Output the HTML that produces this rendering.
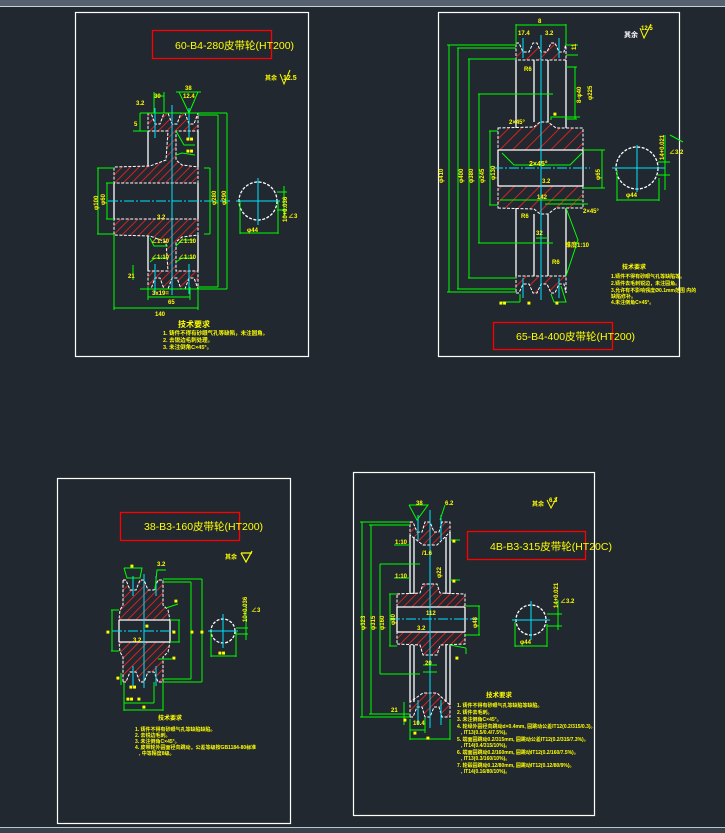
<!DOCTYPE html>
<html><head><meta charset="utf-8"><style>
html,body{margin:0;padding:0;background:#212830;}
svg{display:block}
text{font-family:"Liberation Sans","Noto Sans CJK SC",sans-serif;fill:#ffff00;font-weight:bold}
.t{font-weight:normal;font-family:"Liberation Sans","Noto Sans CJK SC",sans-serif;fill:#ffff00}
</style></head><body>
<svg width="725" height="833" viewBox="0 0 725 833" xmlns="http://www.w3.org/2000/svg">
<defs>
<pattern id="h" patternUnits="userSpaceOnUse" width="6" height="6" patternTransform="rotate(45)">
<rect width="6" height="6" fill="#212830"/>
<line x1="0" y1="0" x2="0" y2="6" stroke="#ff2020" stroke-width="1.6"/>
</pattern>
<pattern id="h2" patternUnits="userSpaceOnUse" width="9" height="9" patternTransform="rotate(45)">
<rect width="9" height="9" fill="#212830"/>
<line x1="0" y1="0" x2="0" y2="9" stroke="#ff2020" stroke-width="1.6"/>
</pattern>
</defs>
<rect x="0" y="0" width="725" height="6" fill="#566170"/>
<line x1="0" y1="6.5" x2="725" y2="6.5" stroke="#c8d0d8" stroke-width="1"/>
<rect x="0" y="828" width="725" height="5" fill="#39414b"/>
<line x1="0" y1="827.5" x2="725" y2="827.5" stroke="#b8c4cc" stroke-width="1"/>

<g fill="none" stroke="#fff" stroke-width="1.2">
<rect x="75.5" y="12.5" width="233" height="344"/>
<rect x="438.5" y="12.5" width="241" height="344"/>
<rect x="57.5" y="478.5" width="233" height="345"/>
<rect x="353.5" y="472.5" width="241" height="343"/>
</g>

<!-- ============ PANEL 1 ============ -->
<rect x="152.5" y="30.5" width="119" height="28" fill="none" stroke="#ff0000" stroke-width="1.3"/>
<text x="175" y="49" font-size="10.5" class="t" style="fill:#ffff00">60-B4-280皮带轮(HT200)</text>
<text x="265" y="80" font-size="6">其余</text><text x="283" y="80" font-size="7">12.5</text>
<path d="M280,74 L284,84 L290,70" fill="none" stroke="#ff0" stroke-width="1"/>
<g fill="url(#h)" stroke="#fff" stroke-width="1" stroke-dasharray="3,1.5">
<polygon points="148,113 151,113 155,124 160,124 164,113 168,113 172,124 177,124 181,113 185,113 189,124 194,124 198,113 198,131 176,131 176,160 182,165 198,167 198,183 114,183 114,167 150,166 166,160 168,131 148,131"/>
<polygon points="148,289 151,289 155,278 160,278 164,289 168,289 172,278 177,278 181,289 185,289 189,278 194,278 198,289 198,271 176,271 176,242 182,237 198,235 198,219 114,219 114,235 150,236 166,242 168,271 148,271"/>
</g>
<g stroke="#fff" stroke-width="1.3" fill="none">
<line x1="148" y1="131" x2="148" y2="166"/><line x1="198" y1="131" x2="198" y2="167"/>
<line x1="148" y1="236" x2="148" y2="271"/><line x1="198" y1="235" x2="198" y2="271"/>
<line x1="114" y1="183" x2="114" y2="219"/><line x1="198" y1="183" x2="198" y2="219"/>
<circle cx="258" cy="201" r="19" stroke-dasharray="3,1.5"/>
</g>
<g stroke="#00e5ff" stroke-width="1">
<line x1="108" y1="201" x2="232" y2="201" stroke-dasharray="10,2,2,2"/>
<line x1="172" y1="105" x2="172" y2="295"/>
<line x1="155" y1="108" x2="155" y2="138"/><line x1="189" y1="108" x2="189" y2="138"/>
<line x1="155" y1="264" x2="155" y2="294"/><line x1="189" y1="264" x2="189" y2="294"/>
<line x1="236" y1="201" x2="280" y2="201"/><line x1="258" y1="178" x2="258" y2="225"/>
</g>
<g stroke="#00ff00" stroke-width="1" fill="none">
<line x1="140" y1="113" x2="227" y2="113"/><line x1="198" y1="115" x2="218" y2="115"/>
<line x1="198" y1="287" x2="218" y2="287"/><line x1="140" y1="289" x2="227" y2="289"/>
<line x1="218" y1="115" x2="218" y2="287"/><line x1="227" y1="113" x2="227" y2="289"/>
<line x1="98" y1="168" x2="98" y2="234"/><line x1="107" y1="183" x2="107" y2="219"/>
<line x1="97" y1="168" x2="114" y2="168"/><line x1="97" y1="234" x2="114" y2="234"/>
<line x1="106" y1="183" x2="114" y2="183"/><line x1="106" y1="219" x2="114" y2="219"/>
<line x1="204" y1="168" x2="210" y2="168"/><line x1="210" y1="168" x2="210" y2="234"/><line x1="204" y1="234" x2="210" y2="234"/>
<line x1="148" y1="287" x2="148" y2="300"/><line x1="190" y1="287" x2="190" y2="300"/>
<line x1="148" y1="297" x2="190" y2="297"/><line x1="114" y1="234" x2="114" y2="310"/><line x1="198" y1="289" x2="198" y2="310"/>
<line x1="114" y1="308" x2="198" y2="308"/>
<line x1="140" y1="113" x2="140" y2="131"/><line x1="133" y1="131" x2="148" y2="131"/>
<line x1="133" y1="265" x2="133" y2="280"/>
<line x1="154" y1="92" x2="154" y2="113"/><line x1="164" y1="92" x2="164" y2="113"/><line x1="154" y1="96" x2="164" y2="96"/>
<polyline points="179,92 189,113 198,92"/><line x1="176" y1="92" x2="201" y2="92"/>
<line x1="240" y1="201" x2="240" y2="234"/><line x1="278" y1="201" x2="278" y2="234"/><line x1="240" y1="233" x2="278" y2="233"/>
<line x1="277" y1="192" x2="287" y2="192"/><line x1="277" y1="210" x2="287" y2="210"/><line x1="284" y1="186" x2="284" y2="218"/>
<polyline points="176,131 184,145 195,145"/><polyline points="176,155 182,153 195,155"/>
<polyline points="150,238 154,246 168,246"/><polyline points="176,246 182,240 194,240"/>
<polyline points="150,262 155,258 168,258"/><polyline points="176,262 182,258 194,258"/>
</g>
<g font-size="6">
<text x="154" y="98">30</text><text x="183" y="98">12.4</text><text x="185" y="90">38</text>
<text x="136" y="105">3.2</text><text x="134" y="126">5</text>
<text x="186" y="141">■■</text><text x="186" y="153">■■</text>
<text x="157" y="219">3.2</text>
<text x="151" y="259">∠1:10</text><text x="178" y="259">∠1:10</text>
<text x="151" y="243">∠1:10</text><text x="178" y="243">∠1:10</text>
<text x="152" y="295">3x19=</text><text x="168" y="304">65</text><text x="155" y="316">140</text>
<text x="247" y="232">φ44</text><text x="128" y="278">21</text>
<text x="216" y="205" transform="rotate(-90 216 205)">φ280</text>
<text x="226" y="205" transform="rotate(-90 226 205)">φ290</text>
<text x="98" y="210" transform="rotate(-90 98 210)">φ100</text>
<text x="105" y="205" transform="rotate(-90 105 205)">φ60</text>
<text x="287" y="222" transform="rotate(-90 287 222)">10+0.036</text>
<text x="288" y="218">∠3</text>
</g>
<text x="178" y="327" font-size="8">技术要求</text>
<g font-size="5.5"><text x="163" y="335">1. 铸件不得有砂眼气孔等缺陷，未注圆角。</text><text x="163" y="342">2. 去锐边毛刺处理。</text><text x="163" y="349">3. 未注倒角C×45°。</text></g>

<!-- ============ PANEL 2 ============ -->
<rect x="493.5" y="322.5" width="119" height="27" fill="none" stroke="#ff0000" stroke-width="1.3"/>
<text x="516" y="340" font-size="10.5" class="t" style="fill:#ffff00">65-B4-400皮带轮(HT200)</text>
<text x="624" y="37" font-size="7" style="fill:#fff">其余</text><text x="641" y="30" font-size="6">12.5</text>
<path d="M640,28 L644,38 L651,24" fill="none" stroke="#ff0" stroke-width="1"/>
<g fill="url(#h2)" stroke="#fff" stroke-width="1" stroke-dasharray="3,1.5">
<polygon points="516,43 519,43 523,52 529,52 533,43 537,43 541,52 547,52 551,43 555,43 559,52 564,52 566,43 566,60 516,60"/>
<polygon points="516,293 519,293 523,284 529,284 533,293 537,293 541,284 547,284 551,293 555,293 559,284 564,284 566,293 566,276 516,276"/>
<polygon points="498,128 534,127 540,122 548,122 556,128 583,128 583,150 498,150"/>
<polygon points="498,208 534,209 540,214 548,214 556,208 583,208 583,186 498,186"/>
</g>
<g stroke="#fff" stroke-width="1.3" fill="none">
<line x1="516" y1="60" x2="516" y2="128"/><line x1="566" y1="60" x2="566" y2="128"/>
<line x1="516" y1="208" x2="516" y2="276"/><line x1="566" y1="208" x2="566" y2="276"/>
<line x1="534" y1="60" x2="534" y2="122"/><line x1="548" y1="60" x2="548" y2="122"/>
<line x1="534" y1="214" x2="534" y2="276"/><line x1="548" y1="214" x2="548" y2="276"/>
<line x1="498" y1="150" x2="498" y2="186"/><line x1="583" y1="150" x2="583" y2="186"/>
<line x1="498" y1="150" x2="583" y2="150"/><line x1="498" y1="186" x2="583" y2="186"/>
<circle cx="637" cy="168" r="21" stroke-dasharray="3,1.5"/>
</g>
<g stroke="#00e5ff" stroke-width="1">
<line x1="493" y1="168" x2="590" y2="168" stroke-dasharray="10,2,2,2"/>
<line x1="541" y1="35" x2="541" y2="300"/>
<line x1="523" y1="38" x2="523" y2="58"/><line x1="559" y1="38" x2="559" y2="58"/>
<line x1="523" y1="278" x2="523" y2="298"/><line x1="559" y1="278" x2="559" y2="298"/>
<line x1="612" y1="168" x2="665" y2="168"/><line x1="637" y1="145" x2="637" y2="192"/>
</g>
<g stroke="#00ff00" stroke-width="1" fill="none">
<line x1="516" y1="25" x2="566" y2="25"/><line x1="516" y1="24" x2="516" y2="45"/><line x1="566" y1="24" x2="566" y2="45"/>
<line x1="447" y1="45" x2="516" y2="45"/><line x1="447" y1="292" x2="516" y2="292"/>
<line x1="449" y1="45" x2="449" y2="292"/>
<line x1="457" y1="48" x2="516" y2="48"/><line x1="457" y1="289" x2="516" y2="289"/><line x1="458" y1="48" x2="458" y2="289"/>
<line x1="468" y1="59" x2="516" y2="59"/><line x1="468" y1="278" x2="516" y2="278"/><line x1="469" y1="59" x2="469" y2="278"/>
<line x1="478" y1="94" x2="553" y2="94"/><line x1="478" y1="243" x2="553" y2="243"/><line x1="479" y1="94" x2="479" y2="243"/>
<line x1="489" y1="131" x2="498" y2="131"/><line x1="489" y1="205" x2="498" y2="205"/><line x1="490" y1="131" x2="490" y2="205"/>
<line x1="583" y1="150" x2="605" y2="150"/><line x1="583" y1="188" x2="605" y2="188"/><line x1="602" y1="150" x2="602" y2="188"/>
<line x1="566" y1="67" x2="577" y2="67"/><line x1="566" y1="119" x2="577" y2="119"/><line x1="575" y1="67" x2="575" y2="119"/>
<line x1="566" y1="45" x2="578" y2="45"/><line x1="566" y1="55" x2="578" y2="55"/>
<polyline points="502,153 514,165 570,165 582,153"/>
<line x1="500" y1="200" x2="582" y2="200"/>
<polyline points="566,208 578,240 570,264 566,276"/>
<line x1="545" y1="204" x2="588" y2="204"/>
<polyline points="551,120 551,117 580,117"/>
<line x1="536" y1="238" x2="548" y2="238"/>
<polyline points="551,294 554,302 566,302 561,286"/>
<line x1="520" y1="302" x2="520" y2="294"/><line x1="501" y1="302" x2="520" y2="302"/>
<line x1="617" y1="170" x2="617" y2="201"/><line x1="659" y1="178" x2="659" y2="201"/><line x1="617" y1="200" x2="659" y2="200"/>
<line x1="665" y1="135" x2="665" y2="190"/><line x1="658" y1="162" x2="670" y2="162"/><line x1="658" y1="175" x2="670" y2="175"/>
<line x1="670" y1="135" x2="683" y2="142"/>
</g>
<g font-size="6">
<text x="538" y="23">8</text><text x="518" y="35">17.4</text><text x="545" y="35">3.2</text>
<text x="524" y="71">R6</text><text x="509" y="124">2×45°</text><text x="553" y="116">■</text>
<text x="529" y="166" font-size="7">2×45°</text><text x="542" y="183">3.2</text><text x="537" y="199">142</text>
<text x="521" y="218">R6</text><text x="583" y="213">2×45°</text><text x="536" y="235">32</text>
<text x="565" y="247">锥度1:10</text><text x="552" y="264">R6</text><text x="555" y="305">■</text>
<text x="499" y="305">■■</text><text x="527" y="305">■</text>
<text x="626" y="197">φ44</text>
<text x="443" y="183" transform="rotate(-90 443 183)">φ410</text>
<text x="463" y="183" transform="rotate(-90 463 183)">φ400</text>
<text x="473" y="183" transform="rotate(-90 473 183)">φ380</text>
<text x="484" y="183" transform="rotate(-90 484 183)">φ245</text>
<text x="495" y="180" transform="rotate(-90 495 180)">φ130</text>
<text x="600" y="180" transform="rotate(-90 600 180)">φ65</text>
<text x="581" y="103" transform="rotate(-90 581 103)">8-φ40</text>
<text x="592" y="100" transform="rotate(-90 592 100)">φ225</text>
<text x="576" y="50" transform="rotate(-90 576 50)">11</text>
<text x="664" y="160" transform="rotate(-90 664 160)">14+0.021</text>
<text x="669" y="154">∠3.2</text>
</g>
<text x="622" y="269" font-size="6">技术要求</text>
<g font-size="5"><text x="611" y="278">1.铸件不得有砂眼气孔等缺陷等。</text><text x="611" y="285">2.铸件去毛刺锐边，未注圆角。</text><text x="611" y="292">3.允许有不影响强度Ø0.1mm范围 内的</text><text x="611" y="298">缺陷修补。</text><text x="611" y="304">4.未注倒角C×45°。</text></g>

<!-- ============ PANEL 3 ============ -->
<rect x="120.5" y="512.5" width="119" height="28" fill="none" stroke="#ff0000" stroke-width="1.3"/>
<text x="144" y="530" font-size="10.5" class="t" style="fill:#ffff00">38-B3-160皮带轮(HT200)</text>
<text x="225" y="559" font-size="6">其余</text>
<path d="M241,553 L246,562 L252,551 M241,553 L252,553" fill="none" stroke="#ff0" stroke-width="1.2"/>
<g fill="url(#h)" stroke="#fff" stroke-width="1" stroke-dasharray="3,1.5">
<polygon points="123,580 126,580 130,590 136,590 140,580 144,580 148,590 154,590 158,580 163,580 163,605 168,610 170,620 119,620 120,610 123,605"/>
<polygon points="123,682 126,682 130,672 136,672 140,682 144,682 148,672 154,672 158,682 163,682 163,657 168,652 170,642 119,642 120,652 123,657"/>
</g>
<g stroke="#fff" stroke-width="1.3" fill="none">
<line x1="119" y1="620" x2="119" y2="642"/><line x1="170" y1="620" x2="170" y2="642"/>
<line x1="119" y1="620" x2="170" y2="620"/><line x1="119" y1="642" x2="170" y2="642"/>
<circle cx="223" cy="631" r="12" stroke-dasharray="3,1.5"/>
</g>
<g stroke="#00e5ff" stroke-width="1">
<line x1="112" y1="631" x2="175" y2="631" stroke-dasharray="10,2,2,2"/>
<line x1="144" y1="574" x2="144" y2="688"/>
<line x1="133" y1="576" x2="133" y2="596"/><line x1="156" y1="576" x2="156" y2="596"/>
<line x1="133" y1="666" x2="133" y2="686"/><line x1="156" y1="666" x2="156" y2="686"/>
<line x1="208" y1="631" x2="238" y2="631"/><line x1="223" y1="614" x2="223" y2="648"/>
</g>
<g stroke="#00ff00" stroke-width="1" fill="none">
<line x1="163" y1="579" x2="202" y2="579"/><line x1="163" y1="682" x2="202" y2="682"/><line x1="202" y1="579" x2="202" y2="682"/>
<line x1="163" y1="582" x2="191" y2="582"/><line x1="163" y1="679" x2="191" y2="679"/><line x1="191" y1="582" x2="191" y2="679"/>
<line x1="111" y1="610" x2="119" y2="610"/><line x1="111" y1="651" x2="119" y2="651"/><line x1="112" y1="610" x2="112" y2="651"/>
<line x1="170" y1="620" x2="180" y2="620"/><line x1="170" y1="642" x2="180" y2="642"/><line x1="179" y1="620" x2="179" y2="642"/>
<line x1="124" y1="682" x2="124" y2="711"/><line x1="163" y1="682" x2="163" y2="711"/><line x1="124" y1="710" x2="163" y2="710"/>
<line x1="124" y1="703" x2="154" y2="703"/><line x1="154" y1="682" x2="154" y2="703"/>
<polyline points="124,568 127,578 140,578 142,568 124,568"/>
<polyline points="155,590 157,570 166,570"/>
<line x1="166" y1="608" x2="178" y2="604"/><line x1="158" y1="659" x2="172" y2="659"/>
<line x1="121" y1="673" x2="121" y2="685"/>
<line x1="211" y1="632" x2="211" y2="657"/><line x1="236" y1="632" x2="236" y2="657"/><line x1="211" y1="656" x2="236" y2="656"/>
<line x1="246" y1="605" x2="246" y2="640"/><line x1="236" y1="628" x2="248" y2="628"/><line x1="236" y1="634" x2="248" y2="634"/>
</g>
<g font-size="6">
<text x="130" y="568">■</text><text x="157" y="566">3.2</text><text x="174" y="603">■</text>
<text x="145" y="628">■</text><text x="133" y="642">3.2</text><text x="172" y="660">■</text>
<text x="116" y="680">■</text><text x="129" y="689">■■</text><text x="126" y="701">■■</text><text x="137" y="701">■</text><text x="142" y="709">■</text>
<text x="106" y="634">■</text><text x="172" y="634">■</text>
<text x="190" y="634">■</text><text x="200" y="634">■</text><text x="218" y="655">■■</text>
<text x="247" y="622" transform="rotate(-90 247 622)">10+0.036</text><text x="251" y="612">∠3</text>
</g>
<text x="158" y="720" font-size="6">技术要求</text>
<g font-size="5"><text x="135" y="731">1. 铸件不得有砂眼气孔等缺陷缺陷。</text><text x="135" y="737">2. 去锐边毛刺。</text><text x="135" y="743">3. 未注倒角C×45°。</text><text x="135" y="749">4. 皮带轮外圆面径向跳动，公差等级按GB1184-80标准</text><text x="139" y="755">, 中等精度8级。</text></g>

<!-- ============ PANEL 4 ============ -->
<rect x="467.5" y="531.5" width="118" height="28" fill="none" stroke="#ff0000" stroke-width="1.3"/>
<text x="490" y="550" font-size="10.5" class="t" style="fill:#ffff00">4B-B3-315皮带轮(HT20C)</text>
<text x="532" y="506" font-size="6">其余</text><text x="549" y="502" font-size="6">6.3</text>
<path d="M547,500 L551,508 L557,497" fill="none" stroke="#ff0" stroke-width="1"/>
<g fill="url(#h)" stroke="#fff" stroke-width="1" stroke-dasharray="3,1.5">
<polygon points="410,522 413,522 417,532 422,532 425,522 430,522 434,532 439,532 442,522 450,522 450,532 437,545 423,545 410,535"/>
<polygon points="397,594 420,593 423,584 437,584 440,593 465,594 465,607 397,607"/>
<polygon points="397,644 420,645 423,655 437,655 440,645 465,644 465,632 397,632"/>
<polygon points="410,717 413,717 417,707 422,707 425,717 430,717 434,707 439,707 442,717 450,717 450,705 437,693 423,693 410,702"/>
</g>
<g stroke="#fff" stroke-width="1.3" fill="none">
<line x1="410" y1="535" x2="410" y2="594"/><line x1="450" y1="532" x2="450" y2="594"/>
<line x1="410" y1="645" x2="410" y2="702"/><line x1="450" y1="645" x2="450" y2="705"/>
<line x1="414" y1="537" x2="414" y2="594"/><line x1="446" y1="537" x2="446" y2="594"/>
<line x1="414" y1="645" x2="414" y2="702"/><line x1="446" y1="645" x2="446" y2="702"/>
<line x1="397" y1="607" x2="397" y2="632"/><line x1="465" y1="607" x2="465" y2="632"/>
<line x1="397" y1="607" x2="465" y2="607"/><line x1="397" y1="632" x2="465" y2="632"/>
<circle cx="531" cy="620" r="15" stroke-dasharray="3,1.5"/>
</g>
<g stroke="#00e5ff" stroke-width="1">
<line x1="390" y1="619" x2="478" y2="619" stroke-dasharray="10,2,2,2"/>
<line x1="430" y1="510" x2="430" y2="728"/>
<line x1="418" y1="515" x2="418" y2="540"/><line x1="441" y1="515" x2="441" y2="540"/>
<line x1="418" y1="700" x2="418" y2="725"/><line x1="441" y1="700" x2="441" y2="725"/>
<line x1="512" y1="620" x2="550" y2="620"/><line x1="531" y1="601" x2="531" y2="640"/>
</g>
<g stroke="#00ff00" stroke-width="1" fill="none">
<line x1="360" y1="522" x2="410" y2="522"/><line x1="360" y1="717" x2="410" y2="717"/><line x1="362" y1="522" x2="362" y2="717"/>
<line x1="369" y1="525" x2="410" y2="525"/><line x1="369" y1="714" x2="410" y2="714"/><line x1="371" y1="525" x2="371" y2="714"/>
<line x1="380" y1="564" x2="420" y2="564"/><line x1="380" y1="674" x2="420" y2="674"/><line x1="380" y1="564" x2="380" y2="674"/>
<line x1="389" y1="594" x2="397" y2="594"/><line x1="389" y1="646" x2="397" y2="646"/><line x1="390" y1="594" x2="390" y2="646"/>
<line x1="465" y1="606" x2="480" y2="606"/><line x1="465" y1="635" x2="480" y2="635"/><line x1="479" y1="606" x2="479" y2="635"/>
<polyline points="409,505 417,520 428,505 409,505"/>
<polyline points="440,520 445,505"/>
<line x1="394" y1="545" x2="410" y2="545"/><line x1="394" y1="578" x2="410" y2="578"/>
<line x1="450" y1="540" x2="460" y2="540"/><line x1="450" y1="580" x2="460" y2="580"/>
<line x1="423" y1="665" x2="437" y2="665"/><line x1="423" y1="672" x2="437" y2="672"/>
<line x1="404" y1="702" x2="404" y2="725"/><line x1="410" y1="719" x2="410" y2="740"/><line x1="450" y1="719" x2="450" y2="740"/>
<line x1="410" y1="739" x2="450" y2="739"/>
<line x1="410" y1="730" x2="425" y2="730"/><line x1="425" y1="718" x2="425" y2="733"/>
<line x1="450" y1="645" x2="466" y2="648"/><line x1="466" y1="648" x2="466" y2="654"/>
<line x1="515" y1="622" x2="515" y2="647"/><line x1="547" y1="624" x2="547" y2="647"/><line x1="515" y1="646" x2="547" y2="646"/>
<line x1="558" y1="600" x2="558" y2="630"/><line x1="547" y1="614" x2="562" y2="614"/><line x1="547" y1="626" x2="562" y2="626"/>
</g>
<g font-size="6">
<text x="416" y="505">38</text><text x="445" y="505">6.2</text>
<text x="395" y="544">1:10</text><text x="395" y="578">1:10</text><text x="452" y="543">■</text><text x="452" y="583">■</text>
<text x="422" y="555">/1.6</text><text x="426" y="615">112</text><text x="417" y="630">3.2</text>
<text x="425" y="665">20</text><text x="455" y="660">■</text>
<text x="391" y="712">21</text><text x="403" y="722">■</text><text x="413" y="725">10.4</text><text x="413" y="735">■</text><text x="426" y="740">■</text>
<text x="520" y="644">φ44</text>
<text x="365" y="630" transform="rotate(-90 365 630)">φ323</text>
<text x="375" y="630" transform="rotate(-90 375 630)">φ315</text>
<text x="384" y="630" transform="rotate(-90 384 630)">φ160</text>
<text x="395" y="625" transform="rotate(-90 395 625)">φ80</text>
<text x="477" y="628" transform="rotate(-90 477 628)">φ48</text>
<text x="441" y="578" transform="rotate(-90 441 578)">φ22</text>
<text x="558" y="608" transform="rotate(-90 558 608)">14+0.021</text><text x="560" y="603">∠3.2</text>
</g>
<text x="486" y="697" font-size="6.5">技术要求</text>
<g font-size="5"><text x="457" y="707">1. 铸件不得有砂眼气孔等缺陷等缺陷。</text><text x="457" y="714">2. 铸件去毛刺。</text><text x="457" y="721">3. 未注倒角C×45°。</text><text x="457" y="728">4. 轮缘外圆径向跳动d×0.4mm, 圆跳动公差IT12(0.2/315/0.3)。</text><text x="461" y="734">, IT13(0.5/0.4/7.5%)。</text><text x="457" y="741">5. 端面圆跳动0.2/315mm, 圆跳动公差IT12(0.2/315/7.3%)。</text><text x="461" y="747">, IT14(0.4/315/10%)。</text><text x="457" y="754">6. 端面圆跳动0.2/160mm, 圆跳动IT12(0.2/160/7.5%)。</text><text x="461" y="760">, IT13(0.3/160/10%)。</text><text x="457" y="767">7. 轮毂圆跳动0.12/80mm, 圆跳动IT12(0.12/80/9%)。</text><text x="461" y="773">, IT14(0.16/80/10%)。</text></g>
</svg>
</body></html>
